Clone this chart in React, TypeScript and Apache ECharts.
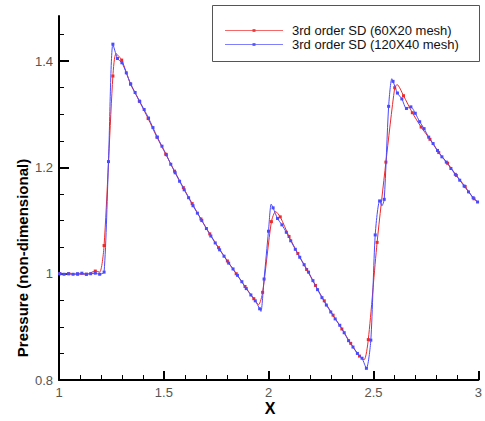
import React, { useEffect, useRef } from "react";
import * as echarts from "echarts";

// ---- data ----
const xTicks = [1, 1.5, 2, 2.5, 3];
const yTicks = [0.8, 1, 1.2, 1.4];
const yMinorTicks = [0.85, 0.9, 0.95, 1.05, 1.1, 1.15, 1.25, 1.3, 1.35, 1.45];

const redName = "3rd order SD (60X20 mesh)";
const blueName = "3rd order SD (120X40 mesh)";

// red series (60x20 mesh); redMark: 1 = marker drawn, 0 = curve point only
const redX = [1.005, 1.047, 1.089, 1.131, 1.173, 1.194, 1.215, 1.257, 1.272, 1.299, 1.341, 1.383, 1.425, 1.467, 1.509, 1.551, 1.593, 1.635, 1.677, 1.719, 1.761, 1.803, 1.845, 1.887, 1.929, 1.952, 1.971, 2.013, 2.033, 2.055, 2.097, 2.139, 2.181, 2.223, 2.265, 2.307, 2.349, 2.391, 2.433, 2.455, 2.475, 2.517, 2.559, 2.601, 2.612, 2.643, 2.685, 2.727, 2.769, 2.811, 2.853, 2.895, 2.937, 2.979, 2.998];
const redY = [1.0, 1.0, 0.999, 0.999, 1.005, 1.003, 1.053, 1.372, 1.414, 1.402, 1.357, 1.325, 1.292, 1.257, 1.225, 1.193, 1.162, 1.132, 1.103, 1.075, 1.049, 1.024, 1.0, 0.976, 0.953, 0.942, 0.965, 1.098, 1.117, 1.107, 1.07, 1.038, 1.008, 0.978, 0.949, 0.922, 0.896, 0.869, 0.845, 0.838, 0.876, 1.059, 1.21, 1.35, 1.356, 1.335, 1.303, 1.276, 1.253, 1.228, 1.208, 1.185, 1.164, 1.141, 1.135];
const redMark = [1, 1, 1, 1, 1, 0, 1, 1, 0, 1, 1, 1, 1, 1, 1, 1, 1, 1, 1, 1, 1, 1, 1, 1, 1, 0, 1, 1, 0, 1, 1, 1, 1, 1, 1, 1, 1, 1, 1, 0, 1, 1, 1, 1, 0, 1, 1, 1, 1, 1, 1, 1, 1, 1, 0];

// blue series (120x40 mesh)
const blueX = [1.003, 1.024, 1.045, 1.067, 1.088, 1.109, 1.13, 1.151, 1.173, 1.194, 1.215, 1.236, 1.257, 1.279, 1.3, 1.321, 1.342, 1.363, 1.385, 1.406, 1.427, 1.448, 1.469, 1.491, 1.512, 1.533, 1.554, 1.575, 1.597, 1.618, 1.639, 1.66, 1.681, 1.703, 1.724, 1.745, 1.766, 1.787, 1.809, 1.83, 1.851, 1.872, 1.893, 1.915, 1.936, 1.957, 1.963, 1.978, 1.999, 2.012, 2.021, 2.042, 2.063, 2.084, 2.105, 2.127, 2.148, 2.169, 2.19, 2.211, 2.233, 2.254, 2.275, 2.296, 2.317, 2.339, 2.36, 2.381, 2.402, 2.423, 2.445, 2.466, 2.487, 2.508, 2.529, 2.54, 2.551, 2.572, 2.587, 2.593, 2.614, 2.635, 2.657, 2.678, 2.699, 2.72, 2.741, 2.763, 2.784, 2.805, 2.826, 2.847, 2.869, 2.89, 2.911, 2.932, 2.953, 2.975, 2.996];
const blueY = [1.0, 0.999, 1.0, 0.999, 1.0, 1.001, 0.999, 1.0, 1.001, 0.999, 1.003, 1.211, 1.432, 1.405, 1.397, 1.378, 1.357, 1.341, 1.324, 1.309, 1.293, 1.275, 1.257, 1.24, 1.224, 1.206, 1.19, 1.174, 1.158, 1.143, 1.128, 1.114, 1.1, 1.085, 1.071, 1.058, 1.045, 1.033, 1.02, 1.009, 0.997, 0.985, 0.972, 0.96, 0.949, 0.934, 0.929, 0.99, 1.08, 1.131, 1.124, 1.104, 1.092, 1.078, 1.062, 1.046, 1.031, 1.017, 1.003, 0.987, 0.97, 0.955, 0.941, 0.928, 0.915, 0.903, 0.889, 0.874, 0.862, 0.85, 0.841, 0.822, 0.875, 1.073, 1.137, 1.128, 1.14, 1.315, 1.367, 1.362, 1.34, 1.329, 1.311, 1.314, 1.302, 1.286, 1.273, 1.257, 1.245, 1.232, 1.22, 1.21, 1.198, 1.187, 1.176, 1.165, 1.154, 1.143, 1.135];
const blueMark = [1, 1, 1, 1, 1, 1, 1, 1, 1, 1, 1, 1, 1, 1, 1, 1, 1, 1, 1, 1, 1, 1, 1, 1, 1, 1, 1, 1, 1, 1, 1, 1, 1, 1, 1, 1, 1, 1, 1, 1, 1, 1, 1, 1, 1, 1, 0, 1, 1, 0, 1, 1, 1, 1, 1, 1, 1, 1, 1, 1, 1, 1, 1, 1, 1, 1, 1, 1, 1, 1, 1, 1, 1, 1, 1, 0, 1, 1, 0, 1, 1, 1, 1, 1, 1, 1, 1, 1, 1, 1, 1, 1, 1, 1, 1, 1, 1, 1, 1];

const RED = "#ee2a2a";
const BLUE = "#4a4aff";
const FONT = "'Liberation Sans', Arial, Helvetica, sans-serif";

function build(xs: number[], ys: number[], marks: number[]) {
  return xs.map((x, i) =>
    marks[i] ? [x, ys[i]] : { value: [x, ys[i]], symbol: "none" }
  );
}

export default function App() {
  const ref = useRef<HTMLDivElement>(null);
  useEffect(() => {
    if (!ref.current) return;
    const chart = echarts.init(ref.current, undefined, { renderer: "svg" });
    const legendItems = [
      { name: redName, color: RED, y: 30 },
      { name: blueName, color: BLUE, y: 44 },
    ];
    const graphics: any[] = [
      {
        type: "rect",
        shape: { x: 212.5, y: 5.5, width: 267, height: 56 },
        style: { fill: "#fff", stroke: "#555", lineWidth: 1 },
        z: 100,
      },
      {
        type: "text",
        x: 22,
        y: 258,
        rotation: Math.PI / 2,
        style: {
          text: "Pressure (non-dimensional)",
          font: `bold 15px ${FONT}`,
          fill: "#000",
          align: "center",
          verticalAlign: "middle",
        },
        z: 100,
      },
      {
        type: "text",
        x: 270,
        y: 408,
        style: {
          text: "X",
          font: `bold 16px ${FONT}`,
          fill: "#000",
          align: "center",
          verticalAlign: "middle",
        },
        z: 100,
      },
    ];
    legendItems.forEach((it) => {
      graphics.push({
        type: "line",
        shape: { x1: 225, y1: it.y + 0.5, x2: 283, y2: it.y + 0.5 },
        style: { stroke: it.color, lineWidth: 1, opacity: 0.7 },
        z: 101,
      });
      graphics.push({
        type: "rect",
        shape: { x: 252.5, y: it.y - 1, width: 3, height: 3 },
        style: { fill: it.color, opacity: 0.8 },
        z: 101,
      });
      graphics.push({
        type: "text",
        x: 292,
        y: it.y + 0.5,
        style: {
          text: it.name,
          font: `13px ${FONT}`,
          fill: "#111",
          verticalAlign: "middle",
        },
        z: 101,
      });
    });

    chart.setOption({
      animation: false,
      grid: { left: 59, right: 4, top: 16, bottom: 41, containLabel: false },
      xAxis: {
        type: "value",
        min: 1,
        max: 3,
        interval: 0.5,
        axisLine: { show: true, onZero: false, lineStyle: { color: "#000", width: 2 } },
        axisTick: { show: true, inside: true, length: 9, lineStyle: { color: "#000", width: 2 } },
        minorTick: { show: true, splitNumber: 5, length: 5, lineStyle: { color: "#000", width: 1 } },
        axisLabel: {
          color: "#555",
          fontSize: 13,
          fontFamily: FONT,
          margin: 6,
          customValues: xTicks,
          formatter: (v: number) => String(v),
        },
        splitLine: { show: false },
        minorSplitLine: { show: false },
      },
      yAxis: [
        {
          type: "value",
          min: 0.8,
          max: 1.485,
          position: "left",
          axisLine: { show: true, onZero: false, lineStyle: { color: "#000", width: 2 } },
          axisTick: {
            show: true,
            inside: true,
            length: 10,
            customValues: yTicks,
            lineStyle: { color: "#000", width: 2 },
          },
          axisLabel: {
            color: "#555",
            fontSize: 13,
            fontFamily: FONT,
            margin: 6,
            customValues: yTicks,
            formatter: (v: number) => String(Math.round(v * 10) / 10),
          },
          splitLine: { show: false },
        },
        {
          type: "value",
          min: 0.8,
          max: 1.485,
          position: "left",
          axisLine: { show: false },
          axisTick: {
            show: true,
            inside: true,
            length: 5,
            customValues: yMinorTicks,
            lineStyle: { color: "#000", width: 1 },
          },
          axisLabel: { show: false },
          splitLine: { show: false },
        },
      ],
      series: [
        {
          name: redName,
          type: "line",
          yAxisIndex: 0,
          data: build(redX, redY, redMark),
          smooth: 0.25,
          symbol: "rect",
          symbolSize: 3,
          showAllSymbol: true,
          lineStyle: { color: RED, width: 1 },
          itemStyle: { color: RED },
          z: 3,
        },
        {
          name: blueName,
          type: "line",
          yAxisIndex: 0,
          data: build(blueX, blueY, blueMark),
          smooth: 0.25,
          symbol: "rect",
          symbolSize: 3,
          showAllSymbol: true,
          lineStyle: { color: BLUE, width: 1 },
          itemStyle: { color: BLUE },
          z: 4,
        },
      ],
      graphic: graphics,
    });
    return () => chart.dispose();
  }, []);
  return (
    <div
      ref={ref}
      style={{ position: "absolute", left: 0, top: 0, width: 485, height: 421, background: "#fff" }}
    />
  );
}
